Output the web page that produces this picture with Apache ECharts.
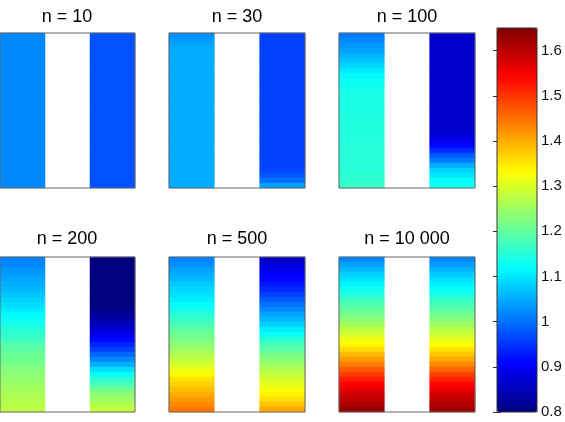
<!DOCTYPE html>
<html>
<head>
<meta charset="utf-8">
<script src="https://cdn.jsdelivr.net/npm/echarts@6/dist/echarts.min.js"></script>
<style>
html, body { margin: 0; padding: 0; background: #fff; }
#main { width: 565px; height: 422px; }
</style>
</head>
<body>
<div id="main"></div>
<script>
// panel titles
var titles = ['n = 10', 'n = 30', 'n = 100', 'n = 200', 'n = 500', 'n = 10 000'];

// values of each strip, top row first (31 rows)
var n10L = [1.02, 1.02, 1.02, 1.02, 1.02, 1.02, 1.02, 1.02, 1.02, 1.02,
	1.02, 1.02, 1.02, 1.02, 1.02, 1.02, 1.02, 1.02, 1.02, 1.02,
	1.02, 1.02, 1.02, 1.02, 1.02, 1.02, 1.02, 1.02, 1.02, 1.02, 1.02];
var n10R = [0.975, 0.975, 0.975, 0.975, 0.975, 0.975, 0.975, 0.975, 0.975, 0.975,
	0.975, 0.975, 0.975, 0.975, 0.975, 0.975, 0.975, 0.975, 0.975, 0.975,
	0.975, 0.975, 0.975, 0.975, 0.975, 0.975, 0.975, 0.975, 0.975, 0.975, 0.975];
var n30L = [1.025, 1.035, 1.045, 1.05, 1.05, 1.05, 1.05, 1.05, 1.05, 1.05,
	1.05, 1.05, 1.05, 1.05, 1.05, 1.05, 1.05, 1.05, 1.05, 1.05,
	1.05, 1.05, 1.05, 1.05, 1.05, 1.05, 1.05, 1.05, 1.05, 1.05, 1.05];
var n30R = [0.96, 0.96, 0.96, 0.96, 0.96, 0.96, 0.96, 0.96, 0.96, 0.96,
	0.96, 0.96, 0.96, 0.96, 0.96, 0.96, 0.96, 0.96, 0.96, 0.96,
	0.96, 0.96, 0.96, 0.96, 0.96, 0.96, 0.96, 0.965, 0.98, 1.0, 1.04];
var n100L = [1.01, 1.02, 1.03, 1.04, 1.055, 1.07, 1.085, 1.1, 1.115, 1.125,
	1.13, 1.135, 1.14, 1.14, 1.14, 1.14, 1.14, 1.145, 1.145, 1.145,
	1.145, 1.145, 1.15, 1.15, 1.15, 1.15, 1.15, 1.15, 1.155, 1.16, 1.165];
var n100R = [0.865, 0.865, 0.865, 0.865, 0.865, 0.865, 0.865, 0.865, 0.865, 0.865,
	0.865, 0.865, 0.865, 0.865, 0.865, 0.865, 0.865, 0.865, 0.865, 0.865,
	0.875, 0.89, 0.91, 0.94, 0.98, 1.01, 1.05, 1.08, 1.1, 1.12, 1.13];
var n200L = [1.015, 1.02, 1.03, 1.035, 1.045, 1.05, 1.06, 1.07, 1.08, 1.09,
	1.1, 1.115, 1.125, 1.135, 1.15, 1.16, 1.17, 1.185, 1.195, 1.205,
	1.21, 1.22, 1.23, 1.235, 1.24, 1.25, 1.255, 1.26, 1.265, 1.27, 1.275];
var n200R = [0.8, 0.8, 0.8, 0.8, 0.8, 0.8, 0.8, 0.8, 0.8, 0.8,
	0.805, 0.82, 0.835, 0.85, 0.87, 0.89, 0.91, 0.935, 0.96, 0.99,
	1.02, 1.05, 1.09, 1.125, 1.155, 1.18, 1.21, 1.235, 1.25, 1.265, 1.28];
var n500L = [1.015, 1.025, 1.04, 1.05, 1.06, 1.075, 1.085, 1.095, 1.105, 1.12,
	1.135, 1.15, 1.165, 1.18, 1.195, 1.21, 1.22, 1.235, 1.25, 1.265,
	1.28, 1.295, 1.315, 1.335, 1.355, 1.37, 1.385, 1.4, 1.415, 1.43, 1.445];
var n500R = [0.86, 0.875, 0.89, 0.9, 0.91, 0.925, 0.94, 0.96, 0.98, 1.0,
	1.02, 1.04, 1.06, 1.08, 1.105, 1.125, 1.15, 1.175, 1.195, 1.215,
	1.23, 1.25, 1.265, 1.28, 1.295, 1.31, 1.325, 1.34, 1.36, 1.38, 1.405];
var n10kL = [1.02, 1.04, 1.06, 1.08, 1.095, 1.11, 1.13, 1.145, 1.165, 1.185,
	1.2, 1.215, 1.235, 1.255, 1.275, 1.295, 1.315, 1.335, 1.36, 1.39,
	1.415, 1.44, 1.47, 1.495, 1.52, 1.545, 1.565, 1.585, 1.6, 1.615, 1.63];
var n10kR = [1.02, 1.035, 1.055, 1.075, 1.09, 1.105, 1.125, 1.14, 1.16, 1.18,
	1.195, 1.21, 1.23, 1.25, 1.27, 1.29, 1.31, 1.33, 1.355, 1.38,
	1.405, 1.43, 1.46, 1.49, 1.515, 1.54, 1.56, 1.58, 1.595, 1.61, 1.625];

var strips = [[n10L, n10R], [n30L, n30R], [n100L, n100R], [n200L, n200R], [n500L, n500R], [n10kL, n10kR]];

// colour scale
var cMin = 0.8, cMax = 1.65;
var jet = ['#000080', '#0000ff', '#0080ff', '#00ffff', '#80ff80', '#ffff00', '#ff8000', '#ff0000', '#800000'];

var rows = [];
for (var r = 0; r < 31; r++) rows.push(r);

var panelLeft = [-1, 169, 339];
var panelTop = [33, 257];
var pw = 136, ph = 155;

var grids = [], xAxes = [], yAxes = [], series = [], graphics = [];

strips.forEach(function (s, k) {
	var col = k % 3, row = Math.floor(k / 3);
	grids.push({
		left: panelLeft[col], top: panelTop[row], width: pw, height: ph,
		show: true, borderColor: '#666', borderWidth: 1, z: 5
	});
	xAxes.push({
		type: 'category', gridIndex: k, data: ['a', 'b', 'c'],
		axisLine: { show: false }, axisTick: { show: false }, axisLabel: { show: false }
	});
	yAxes.push({
		type: 'category', gridIndex: k, data: rows, inverse: true,
		axisLine: { show: false }, axisTick: { show: false }, axisLabel: { show: false }
	});
	var d = [];
	s[0].forEach(function (v, i) { d.push([0, i, v]); });
	s[1].forEach(function (v, i) { d.push([2, i, v]); });
	series.push({
		type: 'heatmap', xAxisIndex: k, yAxisIndex: k, data: d,
		emphasis: { disabled: true }
	});
	graphics.push({
		type: 'text',
		x: panelLeft[col] + pw / 2,
		y: row === 0 ? 17 : 239,
		style: {
			text: titles[k], fill: '#000',
			font: '18px "Liberation Sans", Arial, sans-serif',
			textAlign: 'center', textVerticalAlign: 'middle'
		}
	});
});

// colour bar frame and ticks
grids.push({ left: 497, top: 28, width: 40, height: 384, show: true, borderColor: '#333', borderWidth: 1, z: 5 });
xAxes.push({ type: 'value', gridIndex: 6, show: false, min: 0, max: 1 });
yAxes.push({
	type: 'value', gridIndex: 6, position: 'right', min: cMin, max: cMax, interval: 0.1,
	axisLine: { show: false }, splitLine: { show: false },
	axisTick: { show: true, inside: true, length: 4, lineStyle: { color: '#333' } },
	axisLabel: {
		showMaxLabel: false, margin: 4, fontSize: 15, color: '#111',
		fontFamily: '"Liberation Sans", Arial, sans-serif',
		formatter: function (v) { return String(Math.round(v * 10) / 10); }
	}
});
yAxes.push({
	type: 'value', gridIndex: 6, position: 'left', min: cMin, max: cMax, interval: 0.1,
	axisLine: { show: false }, splitLine: { show: false }, axisLabel: { show: false },
	axisTick: { show: true, inside: true, length: 4, lineStyle: { color: '#333' } }
});

var myChart = echarts.init(document.getElementById('main'));

myChart.setOption({
	animation: false,
	backgroundColor: '#fff',
	grid: grids,
	xAxis: xAxes,
	yAxis: yAxes,
	visualMap: {
		type: 'continuous', min: cMin, max: cMax, calculable: false,
		left: 497, top: 28, itemWidth: 40, itemHeight: 384, padding: 0,
		orient: 'vertical', text: null, showLabel: false,
		inRange: { color: jet }
	},
	graphic: graphics,
	series: series
});
</script>
</body>
</html>
